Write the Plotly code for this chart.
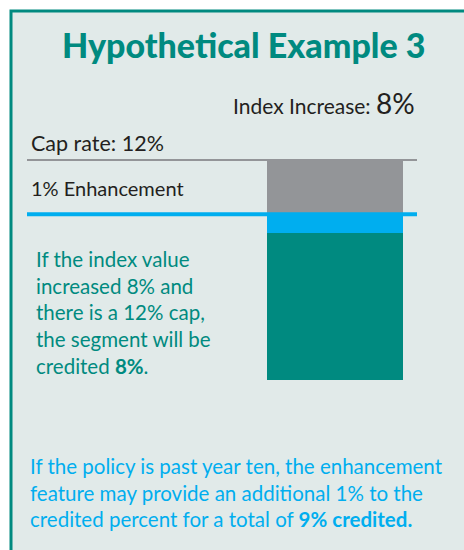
import plotly.graph_objects as go

# ---- data ----
segments = ["Credited", "Enhancement", "To cap"]
index_increase = 8
enhancement = 1
cap_rate = 12
segment_values = [index_increase, enhancement, cap_rate - index_increase - enhancement]
segment_colors = ["#008a80", "#00aeef", "#939598"]

W, H = 464, 550
TEAL = "#008a80"
BLUE = "#00aeef"
GRAY = "#939598"
BG = "#e1eae9"

def px(x):
    return x / W

def py(y):
    return 1 - y / H

fig = go.Figure()
for name, v, c in zip(segments, segment_values, segment_colors):
    fig.add_trace(go.Bar(x=[0], y=[v], name=name, marker=dict(color=c, line=dict(width=0)),
                         width=1, showlegend=False, hoverinfo="skip"))

# axis geometry: bar centred at pixel 335, 136 px wide; 0 at y=380, cap at y=159
bar_c, bar_w = 335, 136
x_lo = -bar_c / bar_w
x_hi = (W - bar_c) / bar_w
y_bottom_px, y_cap_px = 380, 159

shapes = [
    dict(type="rect", xref="paper", yref="paper", x0=px(11), x1=1.05, y0=-0.05, y1=py(11),
         fillcolor=BG, line=dict(color=TEAL, width=3), layer="below"),
    dict(type="line", xref="paper", yref="y", x0=px(27), x1=px(417), y0=cap_rate, y1=cap_rate,
         line=dict(color=GRAY, width=4), layer="above"),
    dict(type="line", xref="paper", yref="y", x0=px(27), x1=px(417),
         y0=index_increase + enhancement, y1=index_increase + enhancement,
         line=dict(color=BLUE, width=4), layer="above"),
]

FONT = "Lato, 'Open Sans', sans-serif"
ann = [
    dict(text="Hypothetical Example 3", x=px(244), y=py(45), xanchor="center", yanchor="middle",
         font=dict(family=FONT, size=34, color=TEAL, weight=900)),
    dict(text="Index Increase: <span style='font-size:28px'>8%</span>", x=px(417), y=py(103),
         xanchor="right", yanchor="middle", font=dict(family=FONT, size=21, color="#231f20")),
    dict(text="Cap rate: 12%", x=px(29), y=py(143), xanchor="left", yanchor="middle",
         font=dict(family=FONT, size=21.5, color="#231f20")),
    dict(text="1% Enhancement", x=px(29), y=py(188), xanchor="left", yanchor="middle",
         font=dict(family=FONT, size=20, color="#231f20")),
    dict(text="If the index value<br>increased 8% and<br>there is a 12% cap,<br>the segment will be<br>credited <b>8%</b>.",
         x=px(34), y=py(312), xanchor="left", yanchor="middle", align="left",
         font=dict(family=FONT, size=20.5, color=TEAL)),
    dict(text="If the policy is past year ten, the enhancement<br>feature may provide an additional 1% to the<br>credited percent for a total of <b>9% credited.</b>",
         x=px(28), y=py(492), xanchor="left", yanchor="middle", align="left",
         font=dict(family=FONT, size=20.5, color=BLUE)),
]
for a in ann:
    a.update(xref="paper", yref="paper", showarrow=False)

fig.update_layout(
    width=W, height=H, margin=dict(l=0, r=0, t=0, b=0),
    paper_bgcolor="white", plot_bgcolor="rgba(0,0,0,0)",
    barmode="stack", bargap=0,
    xaxis=dict(range=[x_lo, x_hi], domain=[0, 1], visible=False, fixedrange=True),
    yaxis=dict(range=[0, cap_rate], domain=[py(y_bottom_px), py(y_cap_px)], visible=False, fixedrange=True),
    shapes=shapes, annotations=ann,
)
fig.write_html("out.html", config={"displayModeBar": False},
               post_script="document.body.style.margin='0';document.body.style.overflow='hidden';")
